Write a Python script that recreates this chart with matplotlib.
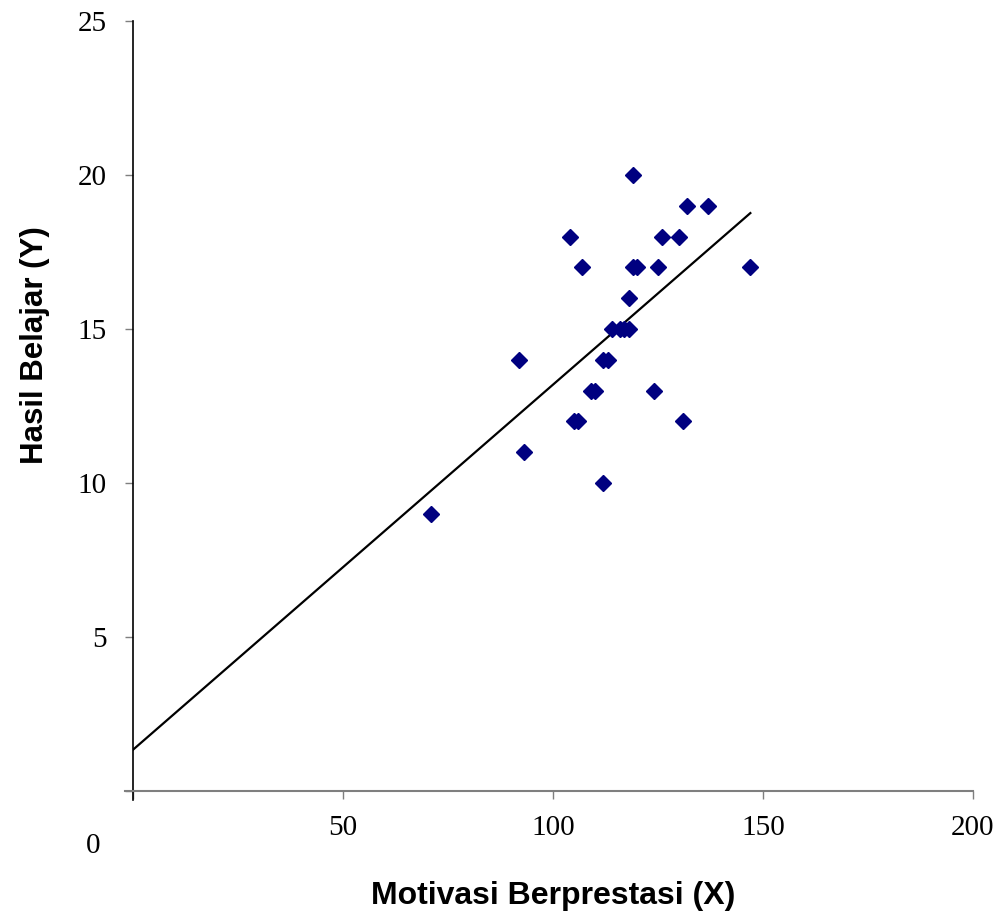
import numpy as np
import matplotlib.pyplot as plt

# ── data (integer scores) ──
motivasi = [119, 132, 137, 104, 126, 130, 107, 119, 120, 125, 147, 118,
            114, 116, 117, 118, 92, 112, 113, 109, 110, 124, 105, 106,
            131, 93, 112, 71]
hasil = [20, 19, 19, 18, 18, 18, 17, 17, 17, 17, 17, 16,
         15, 15, 15, 15, 14, 14, 14, 13, 13, 13, 12, 12,
         12, 11, 10, 9]
x_ticks = [0, 50, 100, 150, 200]
y_ticks = [0, 5, 10, 15, 20, 25]

x = np.array(motivasi, dtype=float)
y = np.array(hasil, dtype=float)

# linear trend line (least squares), drawn from 0 to max X
slope, intercept = np.polyfit(x, y, 1)
x_fit = np.array([0, x.max()])
y_fit = intercept + slope * x_fit

fig = plt.figure(figsize=(10.02, 9.17), dpi=100)
ax = fig.add_axes([0.1327, 0.1374, 0.8383, 0.8397])

ax.plot(x_fit, y_fit, color="black", lw=1.6, zorder=2)
ax.plot(x, y, "D", color="#000080", ms=8, mec="#000080", zorder=3)

ax.set_xlim(0, 200)
ax.set_ylim(0, 25)
ax.set_xticks(x_ticks)
ax.set_yticks(y_ticks)
ax.set_xticklabels([""] + [str(t) for t in x_ticks[1:]])
ax.set_yticklabels([""] + [str(t) for t in y_ticks[1:]])

for s in ["top", "right"]:
    ax.spines[s].set_visible(False)
# Excel-style axes: crossing slightly past the origin
ax.spines["left"].set_color("black")
ax.spines["left"].set_linewidth(1.2)
ax.spines["left"].set_bounds(-0.3, 25)
ax.spines["bottom"].set_color("#7f7f7f")
ax.spines["bottom"].set_linewidth(1.5)
ax.spines["bottom"].set_bounds(-1.9, 200)

serif = "Liberation Serif"
ax.tick_params(axis="x", direction="out", length=6, width=1, pad=11,
               labelsize=21, color="#7f7f7f")
ax.tick_params(axis="y", direction="out", length=6, width=1, pad=13,
               labelsize=21, color="#7f7f7f")
for lab in ax.get_xticklabels() + ax.get_yticklabels():
    lab.set_fontfamily(serif)

# the lone "0" label sits below-left of the origin
ax.text(-0.047, -0.072, "0", transform=ax.transAxes, ha="center",
        va="center", fontsize=21, fontfamily=serif)

ax.set_xlabel("Motivasi Berprestasi (X)", fontsize=23, fontweight="bold",
              fontfamily="Liberation Sans", labelpad=29)
ax.set_ylabel("Hasil Belajar (Y)", fontsize=22.5, fontweight="bold",
              fontfamily="Liberation Sans")
ax.yaxis.set_label_coords(-0.099, 0.579)

plt.savefig("out.png", dpi=100)
